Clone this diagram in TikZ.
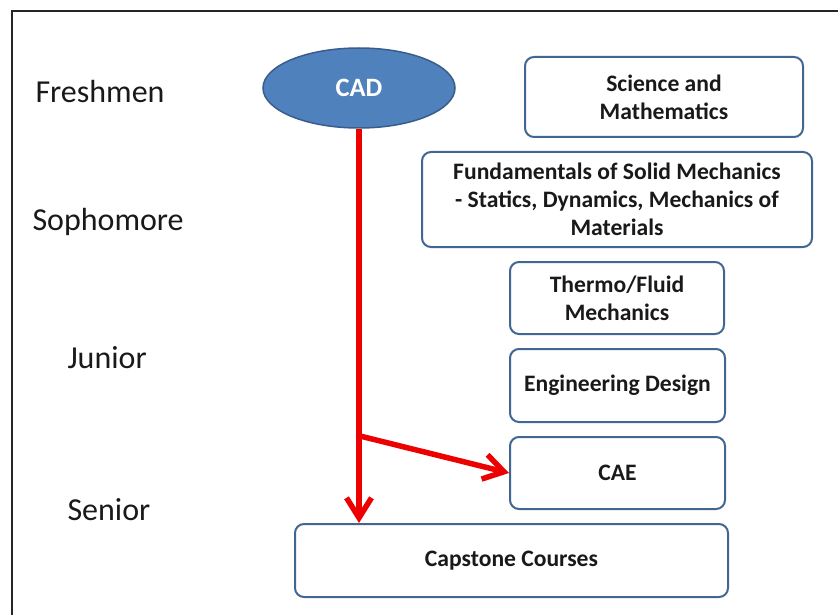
\documentclass[tikz,border=0pt]{standalone}
\usepackage{fontspec}
\setmainfont{Carlito}
\usepackage{tikz}
\usetikzlibrary{arrows.meta, shapes.geometric, calc}
\definecolor{boxblue}{RGB}{65,102,146}
\definecolor{cadfill}{RGB}{79,129,189}
\definecolor{cadline}{RGB}{56,93,138}
\definecolor{flow}{RGB}{236,0,0}

\begin{document}
\begin{tikzpicture}[x=1pt, y=-1pt,
  course/.style={draw=boxblue, line width=2pt, rounded corners=9pt, align=center,
    inner sep=0pt, font=\fontsize{23.6}{28}\selectfont\bfseries, text=black!90},
  year/.style={anchor=base west, font=\fontsize{32}{38}\selectfont, text=black!90},
  flowline/.style={flow, line width=5.5pt, -{Straight Barb[length=20pt, width=25pt]}}]
\useasboundingbox (0,0) rectangle (838,615);
\clip (0,0) rectangle (838,615);
\draw[line width=2pt, black!85] (12,11) rectangle (860,640);

% years down the left side
\foreach \i/\t/\x/\y in {1/Freshmen/32/103, 2/Sophomore/29/230, 3/Junior/64/368, 4/Senior/64/520}
  \node[year] (yr\i) at (\x,\y) {\t};

% CAD and the course boxes
\node[ellipse, draw=cadline, line width=1.5pt, fill=cadfill, minimum width=192pt,
  minimum height=80pt, inner sep=0pt, text=white,
  font=\fontsize{26.5}{30}\selectfont\bfseries] (cad) at (359,88) {CAD};
\node[course, minimum width=278pt, minimum height=80pt] (sci) at (664,97) {Science and\\Mathematics};
\node[course, minimum width=390pt, minimum height=95pt] (fund) at (617,199.5)
  {Fundamentals of Solid Mechanics\\- Statics, Dynamics, Mechanics of\\Materials};
\node[course, minimum width=214pt, minimum height=72pt] (thermo) at (617,298) {Thermo/Fluid\\Mechanics};
\node[course, minimum width=215pt, minimum height=73pt] (design) at (617.5,385.5) {Engineering Design};
\node[course, minimum width=215pt, minimum height=72pt] (cae) at (617.5,473) {CAE};
\node[course, minimum width=433pt, minimum height=73pt] (cap) at (511.5,560.5) {Capstone Courses};

% red flow from CAD
\coordinate (fork) at ($(cad.south)+(0,307)$);
\draw[flowline] (cad.south) -- (cad.south |- cap.north);
\draw[flowline] (fork) -- (cae.west);
\end{tikzpicture}
\end{document}
